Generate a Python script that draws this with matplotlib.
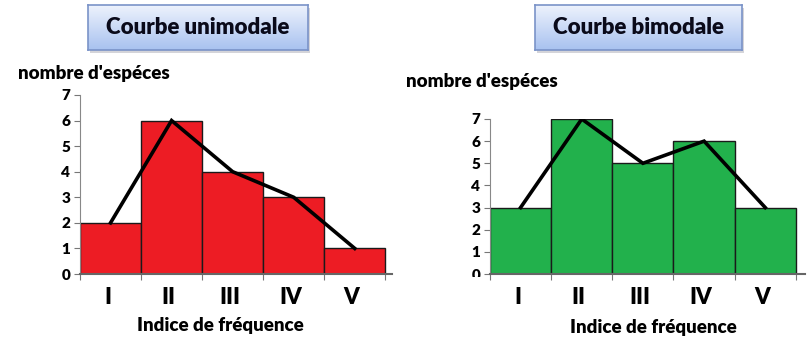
import numpy as np
import matplotlib.pyplot as plt
from matplotlib.transforms import Bbox

# data
classes = ["I", "II", "III", "IV", "V"]
uni_values = [2, 6, 4, 3, 1]
bi_values = [3, 7, 5, 6, 3]
yticks = [0, 1, 2, 3, 4, 5, 6, 7]

plt.rcParams['font.family'] = ['Lato', 'DejaVu Sans']
plt.rcParams['font.weight'] = 'heavy'
WT = 'heavy'

W, H = 811, 346
fig = plt.figure(figsize=(W / 100, H / 100), dpi=100)


def px(x0, y0, x1, y1):
    """pixel box (top-left origin) -> figure fraction rect"""
    return [x0 / W, 1 - y1 / H, (x1 - x0) / W, (y1 - y0) / H]


def title_box(x0, y0, x1, y1, text):
    # shadow
    sh = fig.add_axes(px(x0 + 2, y0 + 3, x1 + 2, y1 + 3))
    sh.set_facecolor('#b8b8c0')
    sh.set_xticks([]); sh.set_yticks([])
    for s in sh.spines.values():
        s.set_visible(False)
    sh.patch.set_alpha(0.6)
    ax = fig.add_axes(px(x0, y0, x1, y1))
    grad = np.linspace(0, 1, 64).reshape(-1, 1)
    top = np.array([0.93, 0.95, 0.99])
    bot = np.array([0.66, 0.76, 0.94])
    img = top + grad[..., None] * (bot - top)
    ax.imshow(img, aspect='auto', extent=[0, 1, 0, 1])
    ax.set_xlim(0, 1); ax.set_ylim(0, 1)
    ax.set_xticks([]); ax.set_yticks([])
    for s in ax.spines.values():
        s.set_color('#7a93c8')
        s.set_linewidth(1.2)
    ax.text(0.5, 0.5, text, ha='center', va='center', fontsize=16,
            fontweight=WT, color='#0a0a1a', transform=ax.transAxes)


def histo(rect, values, color, xmax, xlab_x, xlab_y, clip_zero=False):
    ax = fig.add_axes(rect)
    x = np.arange(len(values))
    ax.bar(x + 0.5, values, width=1.0, color=color, edgecolor='#1a1a1a',
           linewidth=1.0, zorder=2)
    ax.plot(x + 0.5, values, color='black', linewidth=2.6, zorder=3,
            solid_joinstyle='miter')
    ax.set_xlim(0, xmax)
    ax.set_ylim(0, 7)
    ax.set_yticks(yticks)
    ax.set_yticklabels([str(t) for t in yticks], fontsize=11, fontweight=WT)
    ax.set_xticks(range(len(values) + 1))
    ax.set_xticklabels([])
    ax.set_xticks(x + 0.45, minor=True)
    ax.set_xticklabels(classes, minor=True, fontsize=16, fontweight=WT)
    ax.tick_params(axis='x', which='minor', length=0, pad=9)
    ax.tick_params(axis='x', which='major', length=4, color='#777777', direction='out')
    ax.tick_params(axis='y', length=4, color='#777777', pad=3)
    for s in ['top', 'right']:
        ax.spines[s].set_visible(False)
    ax.spines['left'].set_color('#888888')
    ax.spines['bottom'].set_color('#666666')
    ax.spines['bottom'].set_linewidth(1.5)
    ax.set_xlabel("Indice de fréquence", fontsize=13.5, fontweight=WT, va='center')
    ax.xaxis.set_label_coords(xlab_x, xlab_y)
    if clip_zero:
        lab = ax.get_yticklabels()[0]
        lab.set_clip_on(True)
        lab.set_clip_box(Bbox.from_extents(0, H - 277, W, H))
    return ax


title_box(88, 5, 308, 50, "Courbe unimodale")
title_box(535, 5, 742, 50, "Courbe bimodale")

histo(px(80, 95, 392, 274), uni_values, '#ed1c24', 5.11,
      (220 - 80) / 312, -(326 - 274) / 179)
histo(px(490, 119, 805, 274), bi_values, '#22b14c', 5.15,
      (653 - 490) / 315, -(327 - 274) / 155, clip_zero=True)

fig.text(18 / W, 1 - 73 / H, "nombre d'espéces", fontsize=13.5, fontweight=WT,
         ha='left', va='center')
fig.text(406 / W, 1 - 82 / H, "nombre d'espéces", fontsize=13.5, fontweight=WT,
         ha='left', va='center')

fig.savefig("out.png", dpi=100)
